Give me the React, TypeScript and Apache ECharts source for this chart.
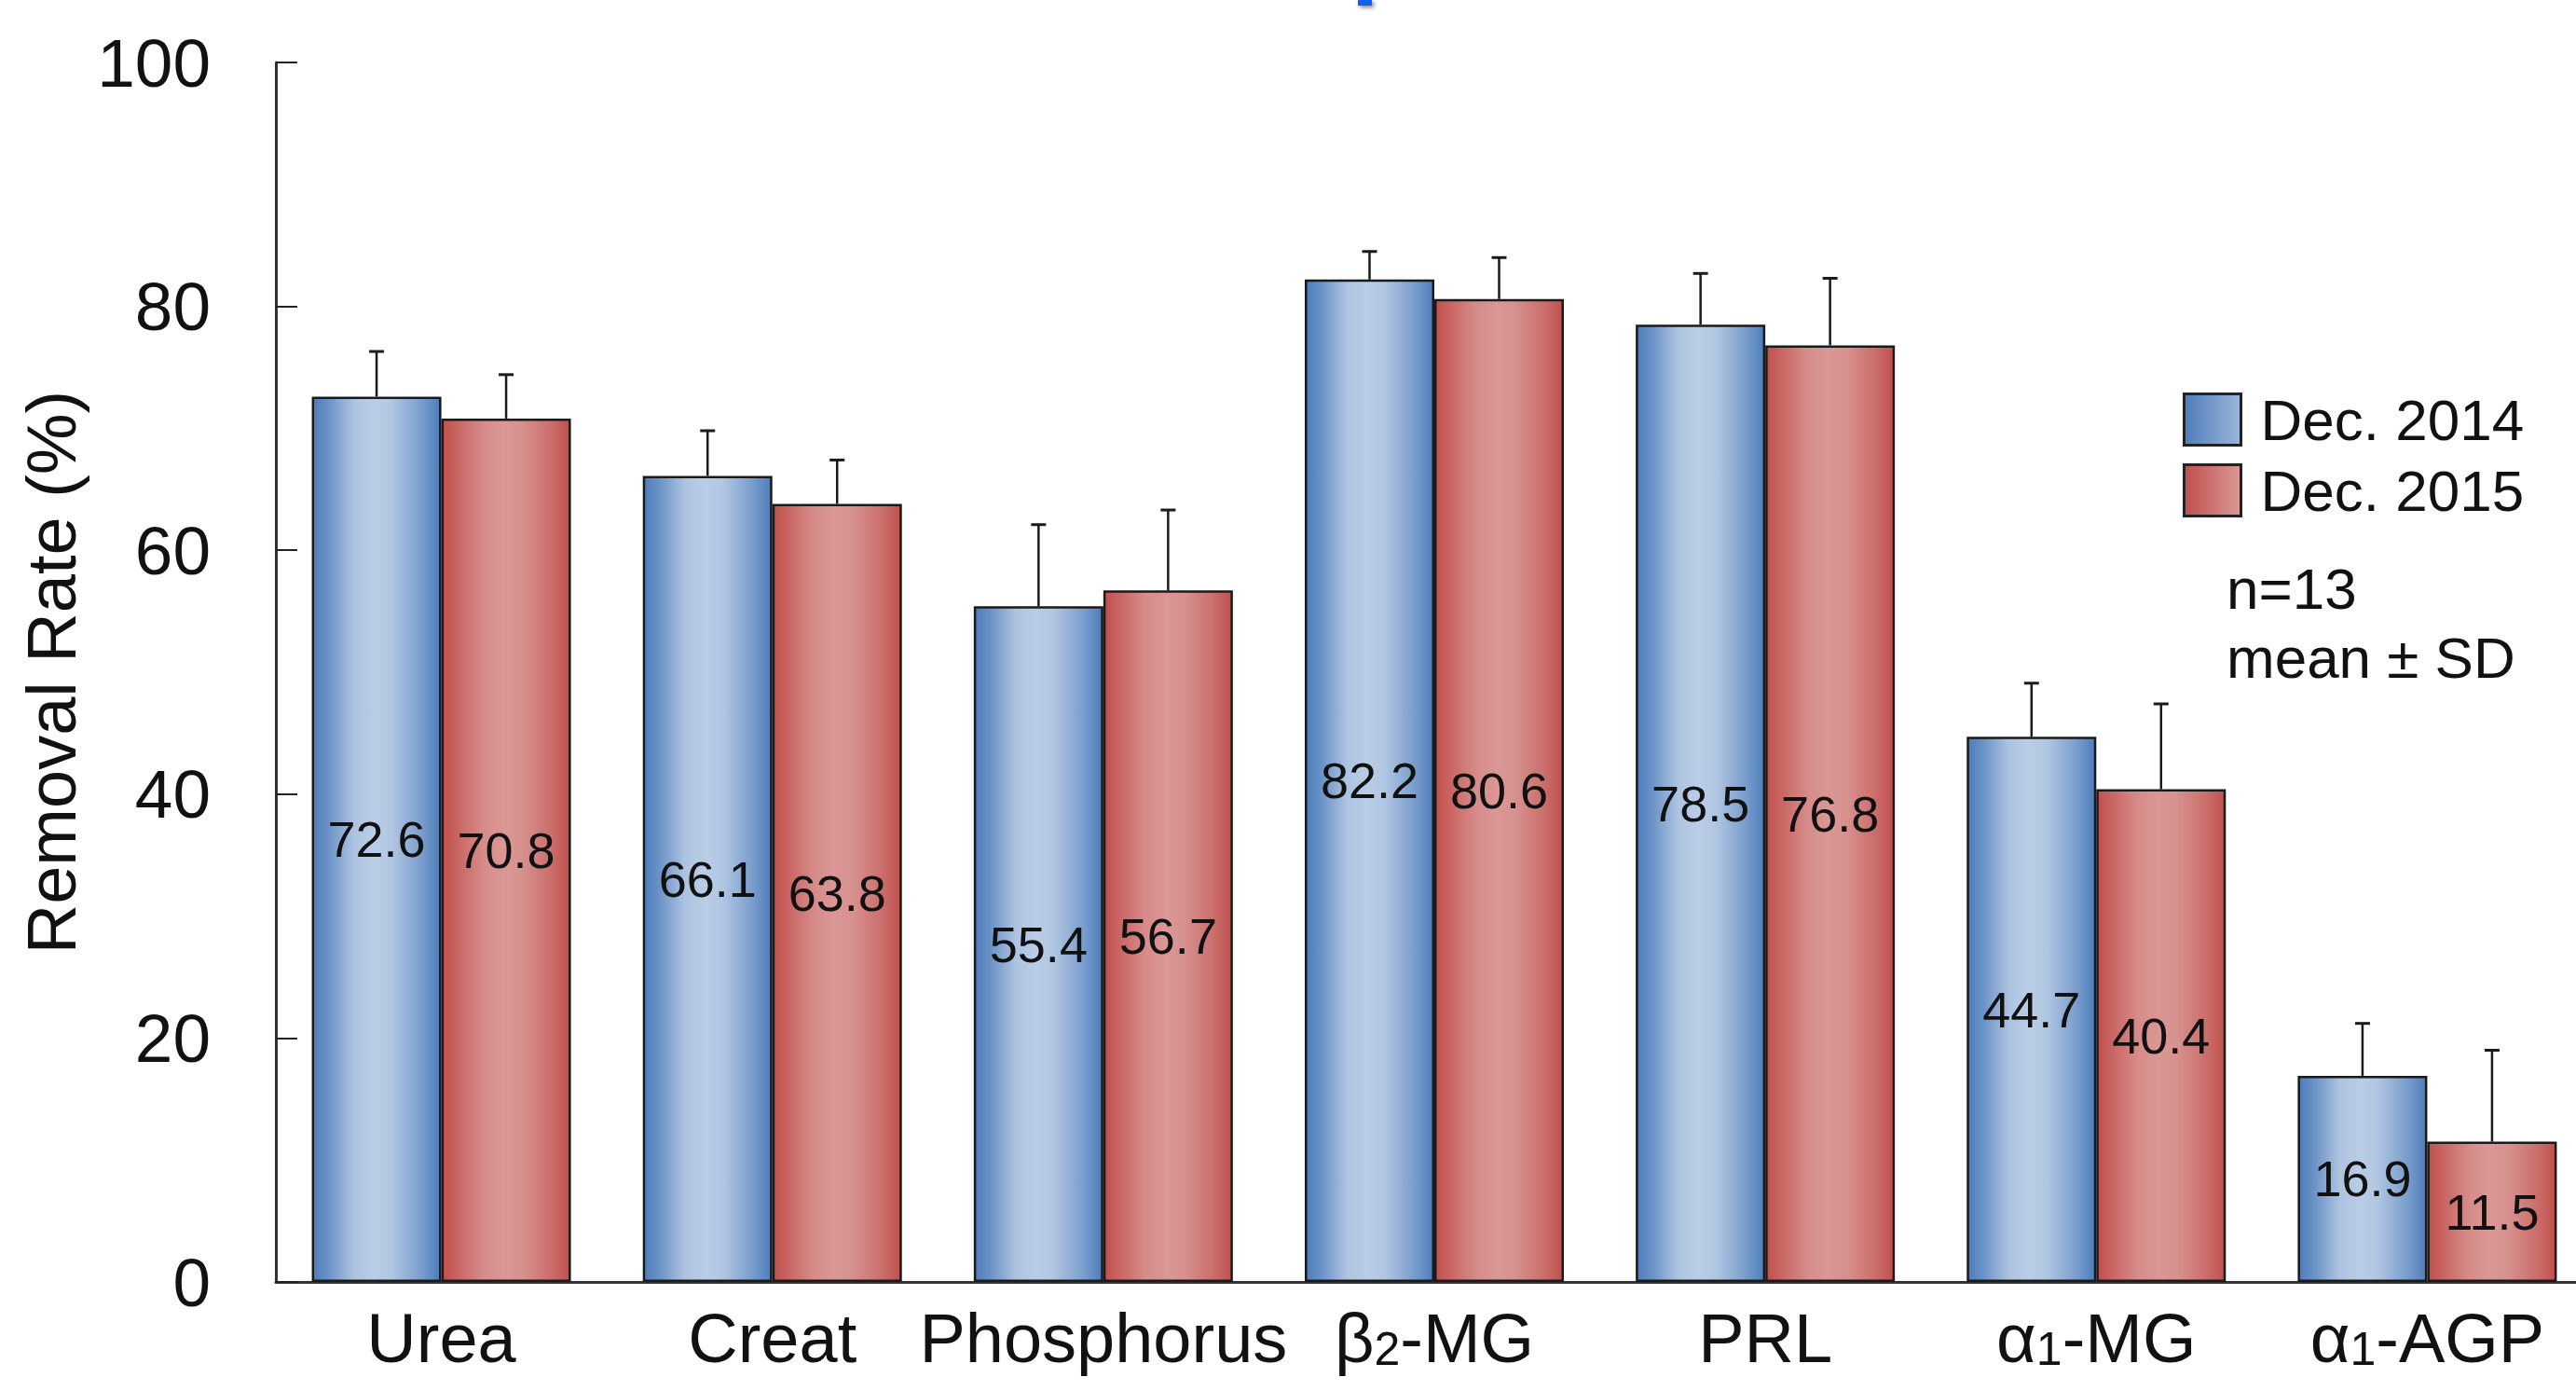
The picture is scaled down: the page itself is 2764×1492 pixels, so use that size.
import React, { useEffect, useRef } from "react";
import * as echarts from "echarts";

const categories = ["Urea", "Creat", "Phosphorus", "β2-MG", "PRL", "α1-MG", "α1-AGP"];
const series2014 = [72.6, 66.1, 55.4, 82.2, 78.5, 44.7, 16.9];
const series2015 = [70.8, 63.8, 56.7, 80.6, 76.8, 40.4, 11.5];
const sd2014 = [3.7, 3.7, 6.7, 2.3, 4.2, 4.4, 4.3];
const sd2015 = [3.6, 3.6, 6.6, 3.4, 5.5, 7.0, 7.5];
const seriesNames = ["Dec. 2014", "Dec. 2015"];
const yTicks = { min: 0, max: 100, interval: 20 };
const noteLines = ["n=13", "mean ± SD"];

const FONT = "'Liberation Sans', Arial, Helvetica, sans-serif";
const BAR_W = 139;
const CHART_W = 2782;

const blueGrad = new echarts.graphic.LinearGradient(0, 0, 1, 0, [
  { offset: 0, color: "#4e7dbb" },
  { offset: 0.12, color: "#6a92c7" },
  { offset: 0.32, color: "#adc3e0" },
  { offset: 0.48, color: "#bacde6" },
  { offset: 0.62, color: "#b1c6e2" },
  { offset: 0.85, color: "#7a9ecd" },
  { offset: 1, color: "#4e7dbb" },
]);
const redGrad = new echarts.graphic.LinearGradient(0, 0, 1, 0, [
  { offset: 0, color: "#c0504d" },
  { offset: 0.12, color: "#c96663" },
  { offset: 0.32, color: "#d68c8a" },
  { offset: 0.48, color: "#da9795" },
  { offset: 0.62, color: "#d79290" },
  { offset: 0.85, color: "#cb6f6c" },
  { offset: 1, color: "#c0504d" },
]);
const blueLegend = new echarts.graphic.LinearGradient(0, 0, 1, 0, [
  { offset: 0, color: "#4e7dbb" },
  { offset: 1, color: "#9db5da" },
]);
const redLegend = new echarts.graphic.LinearGradient(0, 0, 1, 0, [
  { offset: 0, color: "#c0504d" },
  { offset: 1, color: "#d99896" },
]);

function catFormatter(v: string) {
  const m = v.match(/^(.*[αβ])(\d)(.*)$/);
  if (m) return `{n|${m[1]}}{s|${m[2]}}{n|${m[3]}}`;
  return `{n|${v}}`;
}

function errorSeries(name: string, means: number[], sds: number[], side: number) {
  return {
    type: "custom",
    name,
    z: 5,
    silent: true,
    data: means.map((m, i) => [i, m, sds[i]]),
    encode: { x: 0, y: 1 },
    renderItem: (params: any, api: any) => {
      const i = api.value(0);
      const mean = api.value(1);
      const sd = api.value(2);
      const base = api.coord([i, mean]);
      const top = api.coord([i, mean + sd]);
      const x = base[0] + (side * BAR_W) / 2;
      const style = { stroke: "#1a1a1a", lineWidth: 2.5 };
      return {
        type: "group",
        children: [
          { type: "line", shape: { x1: x, y1: base[1], x2: x, y2: top[1] }, style },
          { type: "line", shape: { x1: x - 8, y1: top[1], x2: x + 8, y2: top[1] }, style: { stroke: "#1a1a1a", lineWidth: 3 } },
        ],
      };
    },
  };
}

export default function App() {
  const ref = useRef<HTMLDivElement>(null);
  useEffect(() => {
    if (!ref.current) return;
    const chart = echarts.init(ref.current, null, { renderer: "svg" });
    const barLabel = {
      show: true,
      position: "inside",
      color: "#111",
      fontSize: 54,
      fontFamily: FONT,
      formatter: (p: any) => p.value.toFixed(1),
    };
    chart.setOption({
      animation: false,
      backgroundColor: "#ffffff",
      textStyle: { fontFamily: FONT },
      grid: { left: 296, top: 67, bottom: 117, right: 0, containLabel: false },
      legend: {
        orient: "vertical",
        left: 2337,
        top: 414,
        itemWidth: 61,
        itemHeight: 55,
        itemGap: 14,
        selectedMode: false,
        textStyle: { fontSize: 62, color: "#111", fontFamily: FONT, padding: [0, 0, 0, 16] },
        data: [
          { name: seriesNames[0], icon: "rect", itemStyle: { color: blueLegend, borderColor: "#222", borderWidth: 3 } },
          { name: seriesNames[1], icon: "rect", itemStyle: { color: redLegend, borderColor: "#222", borderWidth: 3 } },
        ],
      },
      xAxis: {
        type: "category",
        data: categories,
        axisLine: { show: true, lineStyle: { color: "#333", width: 3 } },
        axisTick: { show: false },
        axisLabel: {
          margin: 15,
          formatter: catFormatter,
          rich: {
            n: { fontSize: 74, fontFamily: FONT, color: "#111", lineHeight: 82, verticalAlign: "bottom" },
            s: { fontSize: 50, fontFamily: FONT, color: "#111", lineHeight: 82, verticalAlign: "bottom" },
          },
        },
        splitLine: { show: false },
      },
      yAxis: {
        type: "value",
        min: yTicks.min,
        max: yTicks.max,
        interval: yTicks.interval,
        name: "Removal Rate (%)",
        nameLocation: "middle",
        nameRotate: 90,
        nameGap: 204,
        nameTextStyle: { fontSize: 74, color: "#111", fontFamily: FONT },
        axisLine: { show: true, lineStyle: { color: "#333", width: 3 } },
        axisTick: { show: true, inside: true, length: 23, lineStyle: { color: "#222", width: 2 } },
        axisLabel: { fontSize: 73, color: "#111", margin: 70, fontFamily: FONT },
        splitLine: { show: false },
      },
      series: [
        {
          type: "bar",
          name: seriesNames[0],
          data: series2014,
          barWidth: BAR_W,
          barGap: 0,
          itemStyle: { color: blueGrad, borderColor: "#1a1a1a", borderWidth: 2.5 },
          label: barLabel,
        },
        {
          type: "bar",
          name: seriesNames[1],
          data: series2015,
          barWidth: BAR_W,
          barGap: 0,
          itemStyle: { color: redGrad, borderColor: "#1a1a1a", borderWidth: 2.5 },
          label: barLabel,
        },
        errorSeries("sd2014", series2014, sd2014, -1),
        errorSeries("sd2015", series2015, sd2015, 1),
      ],
      graphic: [
        {
          type: "text",
          left: 2389,
          top: 600,
          style: { text: noteLines[0], fontSize: 62, fill: "#111", fontFamily: FONT },
        },
        {
          type: "text",
          left: 2389,
          top: 674,
          style: { text: noteLines[1], fontSize: 62, fill: "#111", fontFamily: FONT },
        },
        {
          type: "rect",
          left: 1457,
          top: 0,
          shape: { width: 15, height: 6 },
          style: { fill: "#0a62f0", shadowBlur: 4, shadowColor: "rgba(0,0,0,0.5)", shadowOffsetX: 2, shadowOffsetY: 2 },
        },
      ],
    });
    return () => chart.dispose();
  }, []);
  return (
    <div style={{ position: "absolute", left: 0, top: 0, width: 2764, height: 1492, overflow: "hidden" }}>
      <div ref={ref} style={{ width: CHART_W, height: 1492 }} />
    </div>
  );
}
